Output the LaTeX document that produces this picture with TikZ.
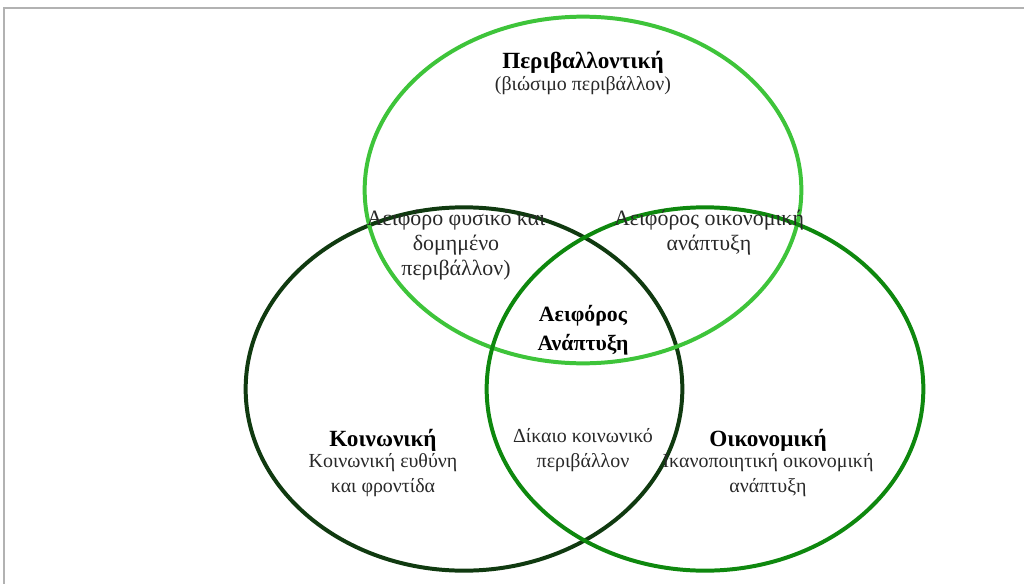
\documentclass[tikz,border=0pt]{standalone}
\usepackage{fontspec}
\setmainfont{Liberation Serif}
\usetikzlibrary{shapes.geometric}

\definecolor{envgreen}{RGB}{62,196,58}
\definecolor{socgreen}{RGB}{16,58,16}
\definecolor{ecogreen}{RGB}{14,136,14}
\definecolor{txtgray}{RGB}{40,40,40}

\begin{document}
\begin{tikzpicture}[x=0.03cm,y=-0.03cm,
  ring/.style={ellipse,draw,line width=3.4pt,minimum width=13.1cm,inner sep=0pt},
  label/.style={align=center,text=txtgray,font=\fontsize{17}{21.3}\selectfont},
  biglabel/.style={label,font=\fontsize{18.7}{21.3}\selectfont},
  title/.style={align=center,text=black,font=\fontsize{19.8}{21.3}\selectfont\bfseries}]

  \useasboundingbox (0,0) rectangle (1024,584);
  \draw[gray!60,line width=1.2pt] (4,584) -- (4,8) -- (1024,8);

  % the three circles
  \node[ring,draw=socgreen,minimum height=10.9cm] (social) at (464,389) {};
  \node[ring,draw=envgreen,minimum height=10.4cm] (environ) at (583,190) {};
  \node[ring,draw=ecogreen,minimum height=10.9cm] (econ) at (705,389) {};

  \node[title] (envt) at (583,62) {Περιβαλλοντική};
  \node[label] (envs) at (583,86) {(βιώσιμο περιβάλλον)};

  \node[biglabel] (envsoc) at (456,245) {Αειφόρο φυσικό και\\δομημένο\\περιβάλλον)};
  \node[biglabel] (enveco) at (709,233) {Αειφόρος οικονομική\\ανάπτυξη};
  \node[title,font=\fontsize{18.6}{24.5}\selectfont\bfseries] (centre) at (583,330) {Αειφόρος\\Ανάπτυξη};

  \node[title] (soct) at (383,440) {Κοινωνική};
  \node[label] (socs) at (383,475) {Κοινωνική ευθύνη\\και φροντίδα};
  \node[label] (soceco) at (583,450) {Δίκαιο κοινωνικό\\περιβάλλον};
  \node[title] (ecot) at (768,440) {Οικονομική};
  \node[label] (ecos) at (768,475) {Ικανοποιητική οικονομική\\ανάπτυξη};
\end{tikzpicture}
\end{document}
